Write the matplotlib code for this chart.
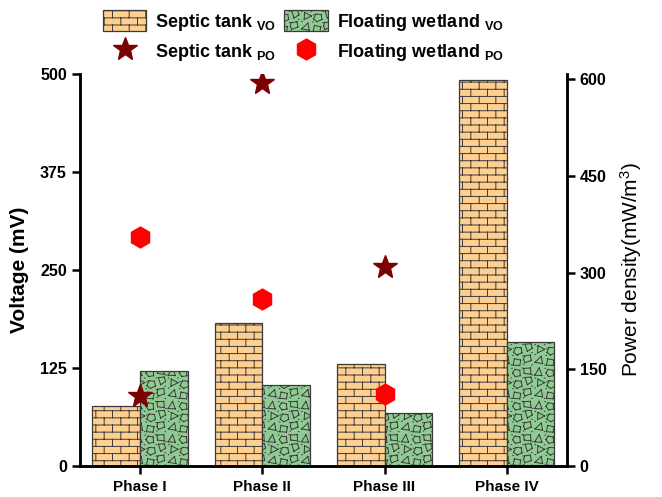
import warnings
warnings.filterwarnings('ignore')
import numpy as np
import matplotlib
matplotlib.use('Agg')
import matplotlib.pyplot as plt
import matplotlib.hatch as mhatch
from matplotlib.path import Path
from matplotlib.lines import Line2D
from matplotlib.patches import Patch

# ---------------- data ----------------
phases = ['Phase I', 'Phase II', 'Phase III', 'Phase IV']
septic_vo = [77, 182, 130, 492]
floating_vo = [121, 103, 68, 158]
septic_po = [108, 594, 308, np.nan]
floating_po = [355, 259, 112, np.nan]
left_ticks = [0, 125, 250, 375, 500]
right_ticks = [0, 150, 300, 450, 600]

# ---------------- custom hatch patterns ----------------
class BrickHatch(mhatch.HatchPatternBase):
    def __init__(self, hatch, density):
        segs = []
        if 'b' in hatch:
            R, C = 14, 6
            for r in range(R):
                y0 = (r + 0.5) / R
                segs.append(((0.0, y0), (1.0, y0)))
                off = 0.5 * (r % 2)
                for c in range(C):
                    x = (c + off + 0.25) / C
                    y1 = y0 + 1.0 / R
                    if y1 <= 1.0:
                        segs.append(((x, y0), (x, y1)))
                    else:
                        segs.append(((x, y0), (x, 1.0)))
                        segs.append(((x, 0.0), (x, y1 - 1.0)))
        self.segs = segs
        self.num_vertices = 2 * len(segs)

    def set_vertices_and_codes(self, vertices, codes):
        vertices[:] = np.array(self.segs, dtype=float).reshape(-1, 2)
        codes[0::2] = Path.MOVETO
        codes[1::2] = Path.LINETO


_stone_centers = [(0.17, 0.20), (0.50, 0.13), (0.83, 0.24), (0.22, 0.52),
                  (0.54, 0.47), (0.86, 0.58), (0.15, 0.84), (0.50, 0.81),
                  (0.82, 0.88)]
_stone_shapes = [
    [(-0.09, -0.05), (0.08, -0.08), (0.05, 0.08)],
    [(-0.08, -0.06), (0.07, -0.07), (0.09, 0.05), (-0.05, 0.08)],
    [(-0.06, -0.09), (0.08, -0.04), (0.06, 0.08), (-0.07, 0.06), (-0.09, -0.02)],
    [(-0.07, -0.08), (0.09, 0.0), (-0.06, 0.08)],
    [(-0.10, -0.03), (-0.02, -0.09), (0.09, -0.04), (0.07, 0.07), (-0.05, 0.08)],
    [(-0.08, 0.07), (-0.03, -0.09), (0.08, -0.02), (0.05, 0.08)],
    [(-0.08, -0.07), (0.08, -0.08), (0.02, 0.09)],
    [(-0.09, 0.0), (-0.03, -0.08), (0.08, -0.06), (0.07, 0.06), (-0.04, 0.08)],
    [(-0.07, -0.06), (0.08, -0.08), (0.07, 0.06), (-0.08, 0.05)],
]
_dots = [(0.33, 0.05), (0.68, 0.32), (0.05, 0.36), (0.38, 0.34), (0.70, 0.07),
         (0.95, 0.42), (0.33, 0.66), (0.68, 0.66), (0.05, 0.66), (0.35, 0.95),
         (0.66, 0.96), (0.95, 0.05), (0.40, 0.55), (0.97, 0.75)]


class StoneHatch(mhatch.HatchPatternBase):
    def __init__(self, hatch, density):
        segs = []
        if 'g' in hatch:
            k = 3
            sc = 1.35
            for i in range(k):
                for j in range(k):
                    for (cx, cy), shape in zip(_stone_centers, _stone_shapes):
                        pts = [((cx + sc * dx + i) / k, (cy + sc * dy + j) / k) for dx, dy in shape]
                        for a in range(len(pts)):
                            segs.append((pts[a], pts[(a + 1) % len(pts)]))
                    for dx, dy in _dots:
                        x0, y0 = (dx + i) / k, (dy + j) / k
                        segs.append(((x0, y0), (x0 + 0.006, y0)))
        self.segs = segs
        self.num_vertices = 2 * len(segs)

    def set_vertices_and_codes(self, vertices, codes):
        vertices[:] = np.clip(np.array(self.segs, dtype=float).reshape(-1, 2), 0.001, 0.999)
        codes[0::2] = Path.MOVETO
        codes[1::2] = Path.LINETO


mhatch._hatch_types.append(BrickHatch)
mhatch._hatch_types.append(StoneHatch)

# ---------------- style ----------------
plt.rcParams['font.family'] = ['Liberation Sans', 'DejaVu Sans']
plt.rcParams['mathtext.fontset'] = 'custom'
plt.rcParams['mathtext.rm'] = 'Liberation Sans'
plt.rcParams['mathtext.bf'] = 'Liberation Sans:bold'
plt.rcParams['mathtext.it'] = 'Liberation Sans:italic'
plt.rcParams['hatch.linewidth'] = 0.7
plt.rcParams['hatch.color'] = '#3a3a3a'

c_septic = '#FECF8F'
c_float = '#8FCB92'
c_star = '#7B0000'
c_hex = '#FF0000'
edge = '#3a3a3a'

fig = plt.figure(figsize=(6.62, 4.97), dpi=100)
ax = fig.add_axes([0.121, 0.0624, 0.735, 0.789])

x = np.arange(len(phases))
w = 0.39
ax.bar(x - w / 2, septic_vo, w, color=c_septic, edgecolor=edge, linewidth=0.9, hatch='b')
ax.bar(x + w / 2, floating_vo, w, color=c_float, edgecolor=edge, linewidth=0.9, hatch='g')

ax.set_xlim(-0.49, 3.49)
ax.set_ylim(0, 500)
ax.set_yticks(left_ticks)
ax.set_xticks(x)
ax.set_xticklabels(phases, fontsize=11, fontweight='bold')
ax.set_ylabel('Voltage (mV)', fontsize=15, fontweight='bold', labelpad=8)

ax2 = ax.twinx()
ax2.set_ylim(0, 608)
ax2.set_yticks(right_ticks)
ax2.plot(x, septic_po, linestyle='none', marker='*', ms=18, color=c_star, mec=c_star)
ax2.plot(x, floating_po, linestyle='none', marker='h', ms=15, color=c_hex, mec=c_hex)
ax2.set_ylabel('Power density(mW/m$^3$)', fontsize=15, labelpad=8)

for a in (ax, ax2):
    a.spines['top'].set_visible(False)
    for s in ('left', 'right', 'bottom'):
        a.spines[s].set_linewidth(1.8)
    a.tick_params(axis='both', direction='out', length=6, width=1.8, labelsize=11.5)
    for lab in a.get_yticklabels():
        lab.set_fontweight('bold')
ax.tick_params(axis='x', pad=4, labelsize=11)

handles = [
    Patch(facecolor=c_septic, edgecolor=edge, hatch='b', linewidth=0.9),
    Line2D([], [], linestyle='none', marker='*', ms=18, color=c_star),
    Patch(facecolor=c_float, edgecolor=edge, hatch='g', linewidth=0.9),
    Line2D([], [], linestyle='none', marker='h', ms=15, color=c_hex),
]
labels = [r'Septic tank $_{\mathbf{VO}}$', r'Septic tank $_{\mathbf{PO}}$',
          r'Floating wetland $_{\mathbf{VO}}$', r'Floating wetland $_{\mathbf{PO}}$']
fig.legend(handles, labels, loc='center', bbox_to_anchor=(0.458, 0.926), ncol=2,
           frameon=False, prop={'weight': 'bold', 'size': 13}, handlelength=2.4,
           handleheight=1.4, columnspacing=0.45, handletextpad=0.5, labelspacing=0.45)

fig.savefig('out.png', dpi=100)
